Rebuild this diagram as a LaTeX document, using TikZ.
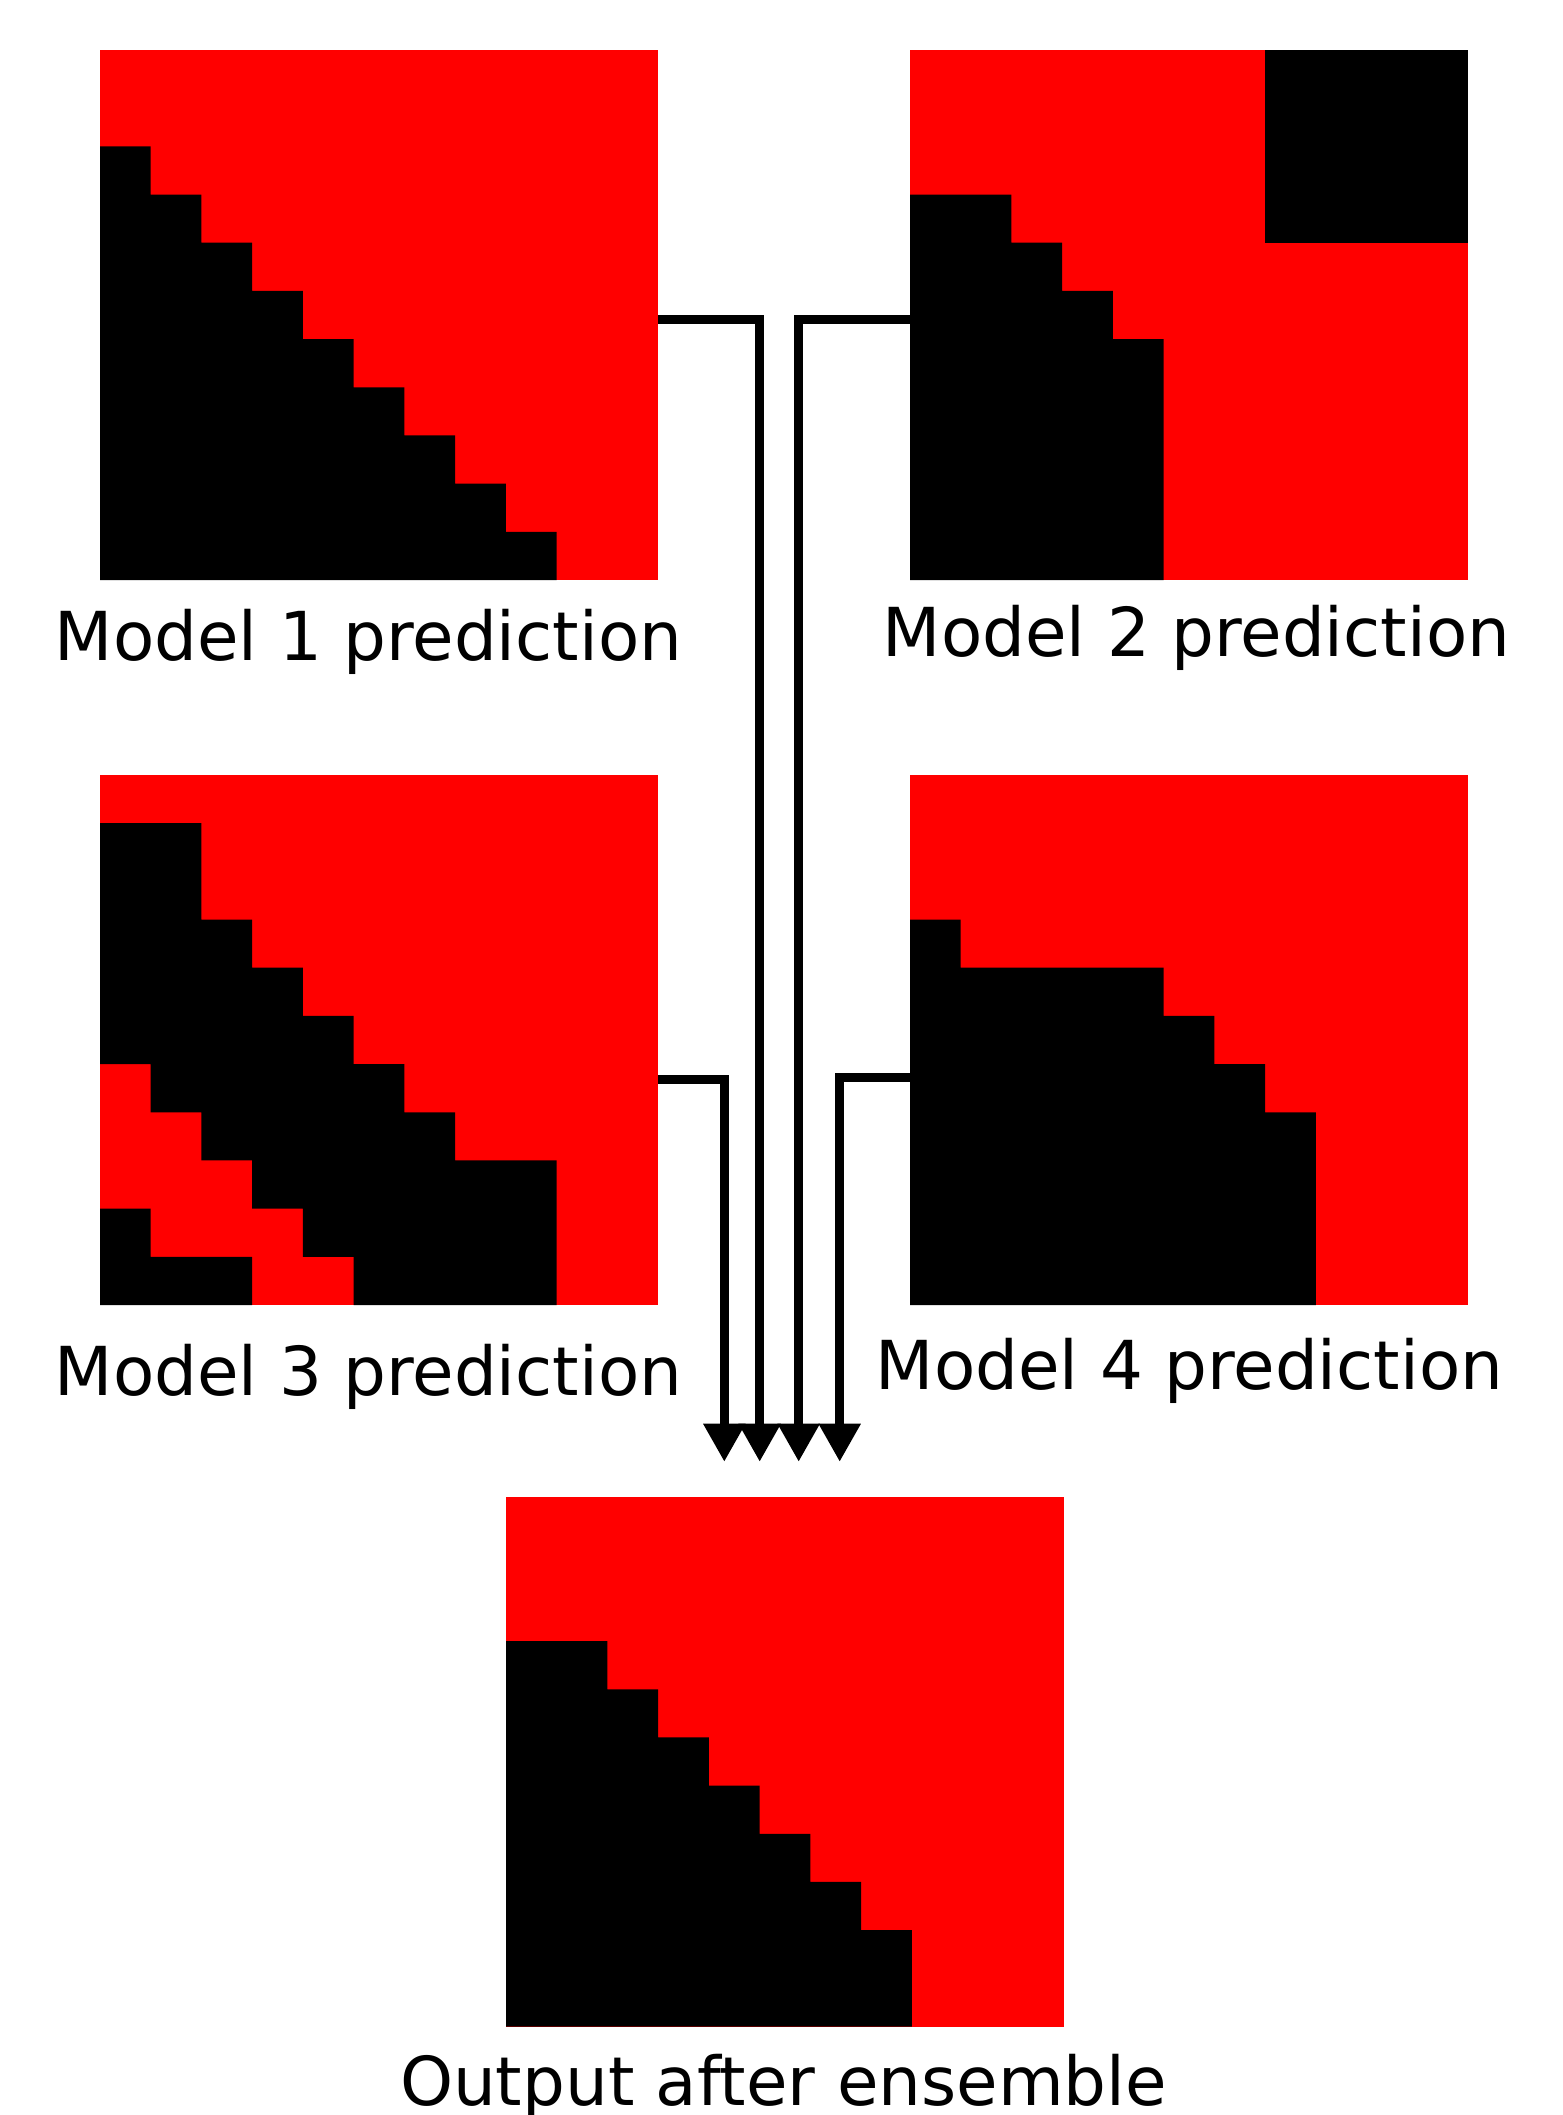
\documentclass[tikz,border=0pt]{standalone}
\usepackage{fontspec}
\setmainfont{DejaVu Sans}
\usetikzlibrary{arrows.meta}
\definecolor{pred}{RGB}{255,0,0}
\tikzset{
  gridbox/.style={rectangle, minimum width=558pt, minimum height=530pt, inner sep=0pt, outer sep=0pt, fill=pred, anchor=north west},
  lab/.style={font=\fontsize{67.5}{80}\selectfont, inner sep=0pt, anchor=base},
  conn/.style={line width=8.5pt, -{Triangle[width=40pt,length=38pt]}},
  blk/.style={fill=black},
  cells/.style={shift={(#1.north west)}, x=50.727pt, y=-48.182pt}
}
\begin{document}
\begin{tikzpicture}[x=1pt,y=-1pt]
\useasboundingbox (0,0) rectangle (1563,2115);
% grids
\node[gridbox] (g1) at (100,50) {};
\node[gridbox] (g2) at (910,50) {};
\node[gridbox] (g3) at (100,775) {};
\node[gridbox] (g4) at (910,775) {};
\node[gridbox] (g5) at (506,1496.5) {};
% grid 1 cells
\begin{scope}[cells=g1]
  \fill[blk] (0,2) rectangle (1,3) (0,3) rectangle (2,4) (0,4) rectangle (3,5)
    (0,5) rectangle (4,6) (0,6) rectangle (5,7) (0,7) rectangle (6,8)
    (0,8) rectangle (7,9) (0,9) rectangle (8,10) (0,10) rectangle (9,11);
\end{scope}
% grid 2 cells
\begin{scope}[cells=g2]
  \fill[blk] (7,0) rectangle (11,4);
  \fill[blk] (0,3) rectangle (2,4) (0,4) rectangle (3,5) (0,5) rectangle (4,6)
    (0,6) rectangle (5,11);
\end{scope}
% grid 3 cells
\begin{scope}[cells=g3]
  \fill[blk] (0,1) rectangle (2,3) (0,3) rectangle (3,4) (0,4) rectangle (4,5)
    (0,5) rectangle (5,6) (1,6) rectangle (6,7) (2,7) rectangle (7,8)
    (3,8) rectangle (9,9) (4,9) rectangle (9,10) (5,10) rectangle (9,11);
  \fill[blk] (0,9) rectangle (1,10) (0,10) rectangle (3,11);
\end{scope}
% grid 4 cells
\begin{scope}[cells=g4]
  \fill[blk] (0,3) rectangle (1,4) (0,4) rectangle (5,5) (0,5) rectangle (6,6)
    (0,6) rectangle (7,7) (0,7) rectangle (8,11);
\end{scope}
% grid 5 cells
\begin{scope}[cells=g5]
  \fill[blk] (0,3) rectangle (2,4) (0,4) rectangle (3,5) (0,5) rectangle (4,6)
    (0,6) rectangle (5,7) (0,7) rectangle (6,8) (0,8) rectangle (7,9)
    (0,9) rectangle (8,11);
\end{scope}
% labels
\node[lab] (l1) at (368.5,660) {Model 1 prediction};
\node[lab] (l2) at (1196.5,656.7) {Model 2 prediction};
\node[lab] (l3) at (368.5,1395.7) {Model 3 prediction};
\node[lab] (l4) at (1189.5,1389) {Model 4 prediction};
\node[lab] (l5) at (783.5,2105) {Output after ensemble};
% connectors
\coordinate (t1) at (759.7,1461.7);
\coordinate (t2) at (798.7,1461.7);
\coordinate (t3) at (724.3,1461.7);
\coordinate (t4) at (839.7,1461.7);
\draw[conn] ([yshift=-4.65pt]g1.east) -| (t1);
\draw[conn] ([yshift=-4.65pt]g2.west) -| (t2);
\draw[conn] ([yshift=-39.3pt]g3.east) -| (t3);
\draw[conn] ([yshift=-37.3pt]g4.west) -| (t4);
\end{tikzpicture}
\end{document}
